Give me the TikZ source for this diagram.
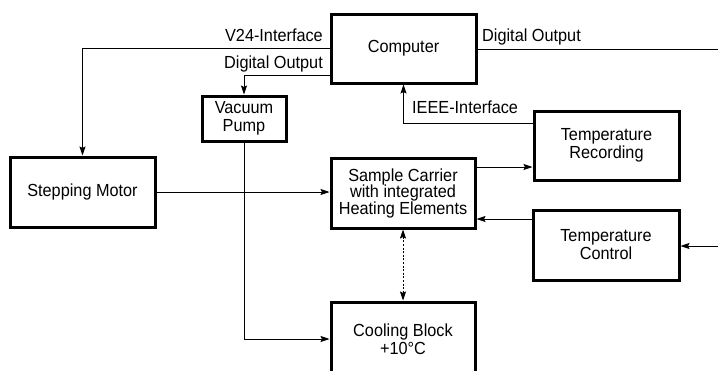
\documentclass[tikz,border=0pt]{standalone}
\usepackage{fontspec}
\setmainfont{Liberation Sans}[FakeStretch=0.93]
\usetikzlibrary{arrows.meta}

\begin{document}
\begin{tikzpicture}[
  x=1pt, y=-1pt,
  >={Stealth[length=9pt,width=6pt,inset=1.5pt]},
  block/.style={draw, line width=3pt, inner sep=0pt, align=center},
  conn/.style={->, line width=0.9pt},
  thermal/.style={<->, line width=0.9pt, dash pattern=on 2pt off 1.6pt},
  lbl/.style={inner sep=0pt},
  every node/.style={font=\fontsize{17.5}{18}\selectfont}
]
  \useasboundingbox (0,0) rectangle (718,370);

  \node[block, minimum width=145, minimum height=69] (comp) at (403.5,48.5) {Computer};
  \node[block, minimum width=84, minimum height=45] (pump) at (244,118.5) {Vacuum\\Pump};
  \node[block, minimum width=145, minimum height=70] (motor) at (82.5,192) {Stepping Motor};
  \node[block, minimum width=144, minimum height=70, font=\fontsize{17.5}{16.5}\selectfont] (carrier) at (403,193)
    {Sample Carrier\\with integrated\\Heating Elements};
  \node[block, minimum width=144, minimum height=74] (cool) at (403,339) {Cooling Block\\+10°C};
  \node[block, minimum width=145, minimum height=69] (rec) at (606.5,145.5) {Temperature\\Recording};
  \node[block, minimum width=146, minimum height=70] (ctrl) at (606,245) {Temperature\\Control};

  \coordinate (dout) at (718,49);
  \coordinate (setpoint) at (718,246);

  \node[lbl, anchor=base east] (v24) at (323,41) {V24-Interface};
  \node[lbl, anchor=base east] (doutL) at (323,68) {Digital Output};
  \node[lbl, anchor=base west] (doutR) at (482,41) {Digital Output};
  \node[lbl, anchor=base west] (ieee) at (412,113) {IEEE-Interface};

  \draw[conn] (comp.west) -| (motor.north);
  \draw[conn] (comp.west |- 0,75) -| (pump.north);
  \draw[conn] (pump.south) |- (cool.west);
  \draw[conn] (motor.east) -- (motor.east -| carrier.west);
  \draw[thermal] (carrier.south) -- (cool.north);
  \draw[conn] (carrier.east |- 0,167) -- (rec.west |- 0,167);
  \draw[conn] (rec.west |- 0,123) -| (comp.south);
  \draw[conn] (ctrl.west |- 0,219) -- (carrier.east |- 0,219);
  \draw[line width=0.9pt] (comp.east |- dout) -- (dout);
  \draw[conn] (setpoint) -- (ctrl.east |- setpoint);
\end{tikzpicture}
\end{document}
